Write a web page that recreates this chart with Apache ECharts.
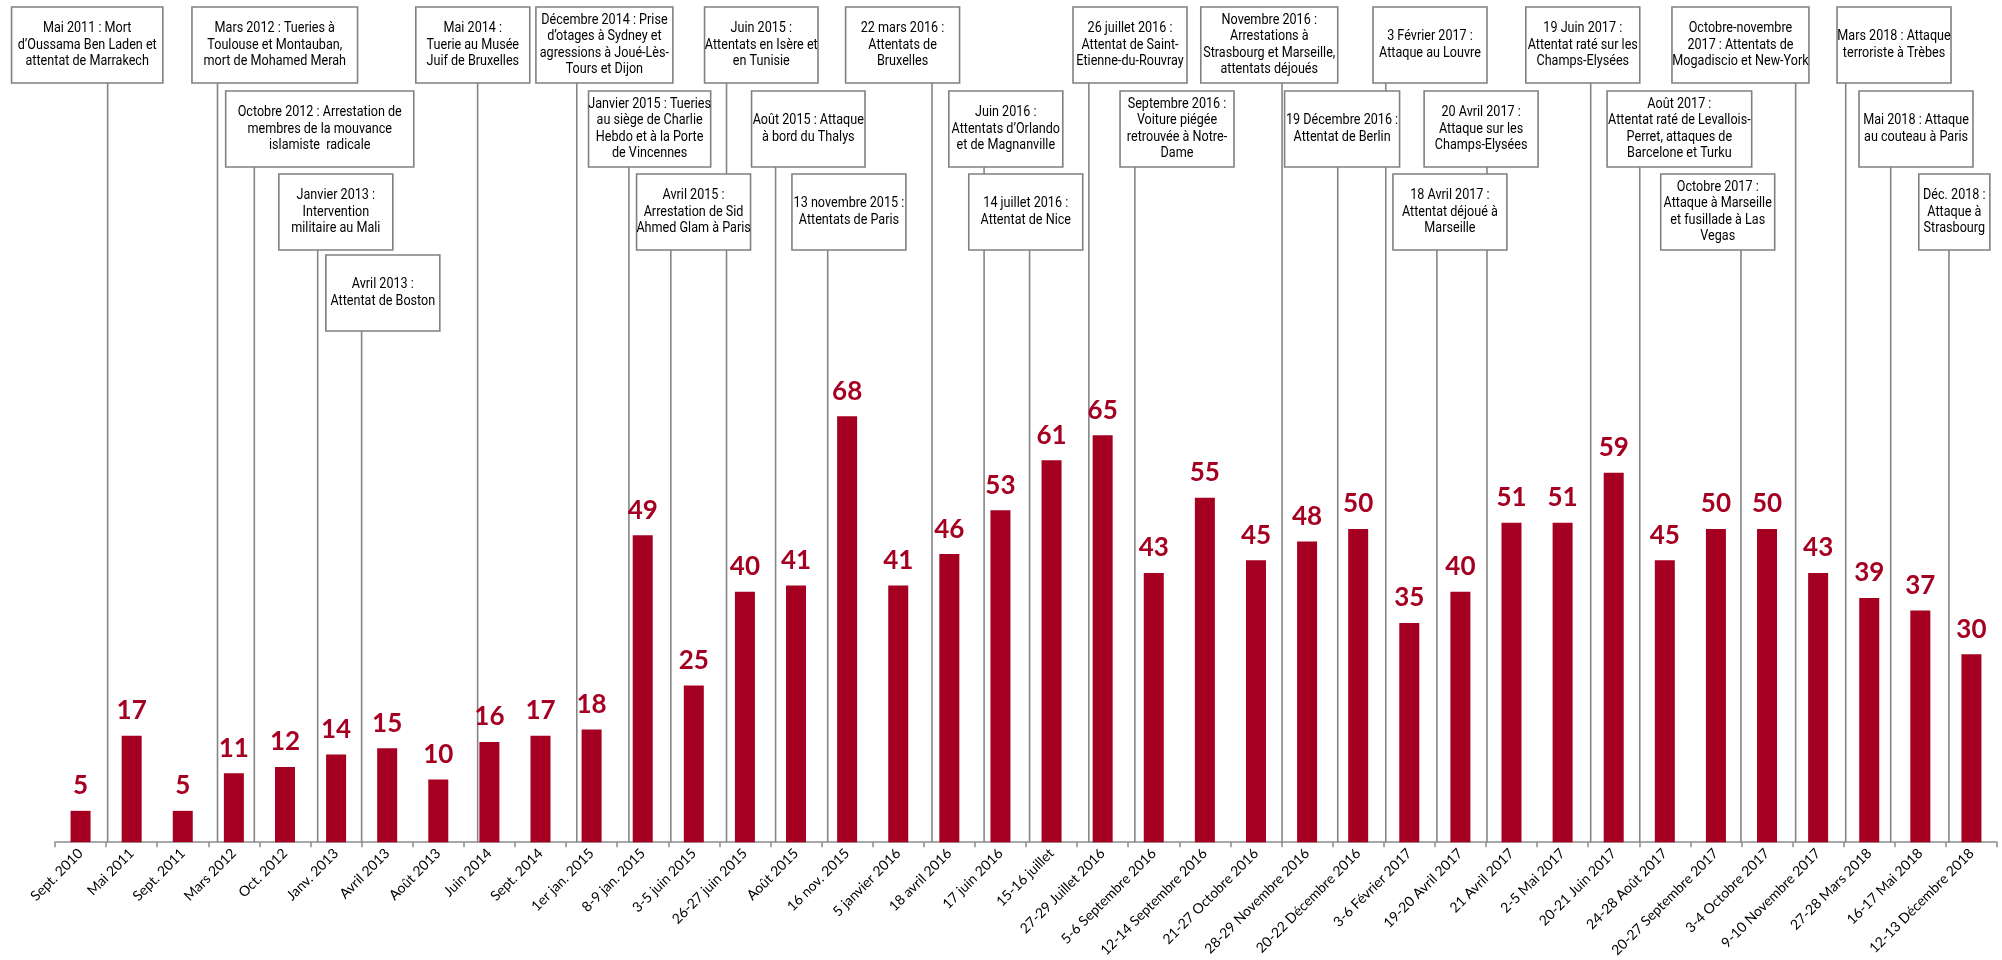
<!DOCTYPE html>
<html>
<head>
<meta charset="utf-8">
<script src="https://cdn.jsdelivr.net/npm/echarts@6/dist/echarts.min.js"></script>
<style>
html,body{margin:0;padding:0;background:#fff;}
#chart{width:2002px;height:960px;}
</style>
</head>
<body>
<div id="chart"></div>
<script>
// ---- Data ----
const categories = [
  'Sept. 2010','Mai 2011','Sept. 2011','Mars 2012','Oct. 2012','Janv. 2013','Avril 2013','Août 2013',
  'Juin 2014','Sept. 2014','1er jan. 2015','8-9 jan. 2015','3-5 juin 2015','26-27 juin 2015','Août 2015',
  '16 nov. 2015','5 janvier 2016','18 avril 2016','17 juin 2016','15-16 juillet','27-29 Juillet 2016',
  '5-6 Septembre 2016','12-14 Septembre 2016','21-27 Octobre 2016','28-29 Novembre 2016','20-22 Décembre 2016',
  '3-6 Février 2017','19-20 Avril 2017','21 Avril 2017','2-5 Mai 2017','20-21 Juin 2017','24-28 Août 2017',
  '20-27 Septembre 2017','3-4 Octobre 2017','9-10 Novembre 2017','27-28 Mars 2018','16-17 Mai 2018',
  '12-13 Décembre 2018'
];
const values = [5,17,5,11,12,14,15,10,16,17,18,49,25,40,41,68,41,46,53,61,65,43,55,45,48,50,35,40,51,51,59,45,50,50,43,39,37,30];

const annotationTexts = [
  'Mai 2011 : Mort\nd’Oussama Ben Laden et\nattentat de Marrakech',
  'Mars 2012 : Tueries à\nToulouse et Montauban,\nmort de Mohamed Merah',
  'Octobre 2012 : Arrestation de\nmembres de la mouvance\nislamiste  radicale',
  'Janvier 2013 :\nIntervention\nmilitaire au Mali',
  'Avril 2013 :\nAttentat de Boston',
  'Mai 2014 :\nTuerie au Musée\nJuif de Bruxelles',
  'Décembre 2014 : Prise\nd’otages à Sydney et\nagressions à Joué-Lès-\nTours et Dijon',
  'Janvier 2015 : Tueries\nau siège de Charlie\nHebdo et à la Porte\nde Vincennes',
  'Avril 2015 :\nArrestation de Sid\nAhmed Glam à Paris',
  'Juin 2015 :\nAttentats en Isère et\nen Tunisie',
  'Août 2015 : Attaque\nà bord du Thalys',
  '13 novembre 2015 :\nAttentats de Paris',
  '22 mars 2016 :\nAttentats de\nBruxelles',
  'Juin 2016 :\nAttentats d’Orlando\net de Magnanville',
  '14 juillet 2016 :\nAttentat de Nice',
  '26 juillet 2016 :\nAttentat de Saint-\nEtienne-du-Rouvray',
  'Septembre 2016 :\nVoiture piégée\nretrouvée à Notre-\nDame',
  'Novembre 2016 :\nArrestations à\nStrasbourg et Marseille,\nattentats déjoués',
  '19 Décembre 2016 :\nAttentat de Berlin',
  '3 Février 2017 :\nAttaque au Louvre',
  '20 Avril 2017 :\nAttaque sur les\nChamps-Elysées',
  '18 Avril 2017 :\nAttentat déjoué à\nMarseille',
  '19 Juin 2017 :\nAttentat raté sur les\nChamps-Elysées',
  'Août 2017 :\nAttentat raté de Levallois-\nPerret, attaques de\nBarcelone et Turku',
  'Octobre 2017 :\nAttaque à Marseille\net fusillade à Las\nVegas',
  'Octobre-novembre\n2017 : Attentats de\nMogadiscio et New-York',
  'Mars 2018 : Attaque\nterroriste à Trèbes',
  'Mai 2018 : Attaque\nau couteau à Paris',
  'Déc. 2018 :\nAttaque à\nStrasbourg'
];

// ---- Layout of annotations (category units on x, row index on y) ----
const annotationLineX = [1.03,3.18,3.90,5.14,6.00,8.27,10.21,11.23,12.05,13.14,14.10,15.12,17.16,18.18,19.07,20.23,21.13,24.01,25.10,26.04,28.02,27.04,30.05,31.01,32.99,34.06,35.04,35.92,37.06];
const annotationBoxes = [
  [-0.85,2.11,0],[2.68,5.92,0],[3.34,7.02,1],[4.38,6.61,2],[5.30,7.53,3],[7.06,9.29,0],
  [9.41,12.09,0],[10.44,12.83,1],[11.38,13.61,2],[12.71,14.93,0],[13.63,15.85,1],[14.42,16.65,2],
  [15.47,17.70,0],[17.49,19.72,1],[17.88,20.11,2],[19.92,22.15,0],[20.84,23.07,1],[22.42,25.10,0],
  [24.06,26.31,1],[25.79,28.02,0],[26.79,29.02,1],[26.18,28.41,2],[28.78,31.01,0],[30.37,33.20,1],
  [31.42,33.65,2],[31.64,34.32,0],[34.87,37.10,0],[35.30,37.53,1],[36.47,37.86,2]
];
const rowTops = [7, 91, 174, 255];
const boxHeight = 76;

const barColor = '#A50021';
const boxFont = 'Roboto, sans-serif';

const chart = echarts.init(document.getElementById('chart'), null, {renderer: 'canvas'});

const option = {
  animation: false,
  backgroundColor: '#ffffff',
  grid: {left: 55, width: 1942, bottom: 117, top: 216, containLabel: false},
  xAxis: [
    {
      type: 'category',
      data: categories,
      axisLine: {lineStyle: {color: '#8c8c8c', width: 1.5}},
      axisTick: {show: true, length: 5, lineStyle: {color: '#8c8c8c', width: 1.5}},
      axisLabel: {interval: 0, rotate: 45, margin: 9, color: '#000', fontSize: 14, fontFamily: 'Lato, sans-serif'}
    },
    {type: 'value', min: 0, max: categories.length, show: false}
  ],
  yAxis: [{type: 'value', min: 0, max: 100, show: false}],
  series: [
    {
      type: 'custom',
      xAxisIndex: 1,
      yAxisIndex: 0,
      clip: false,
      silent: true,
      z: 1,
      data: annotationLineX.map((x, i) => [x, annotationBoxes[i][2]]),
      renderItem: function (params, api) {
        const x = api.coord([api.value(0), 0])[0];
        const yAxisPos = api.coord([0, 0])[1];
        const top = rowTops[api.value(1)] + boxHeight;
        return {
          type: 'line',
          shape: {x1: x, y1: top, x2: x, y2: yAxisPos},
          style: {stroke: '#858585', lineWidth: 1.6}
        };
      }
    },
    {
      type: 'custom',
      xAxisIndex: 1,
      yAxisIndex: 0,
      clip: false,
      silent: true,
      z: 3,
      data: annotationBoxes.map((b, i) => [b[0], b[1], b[2], i]),
      renderItem: function (params, api) {
        const xl = api.coord([api.value(0), 0])[0];
        const xr = api.coord([api.value(1), 0])[0];
        const top = rowTops[api.value(2)];
        const idx = api.value(3);
        return {
          type: 'group',
          children: [
            {
              type: 'rect',
              shape: {x: xl, y: top, width: xr - xl, height: boxHeight},
              style: {fill: '#ffffff', stroke: '#808080', lineWidth: 1.6}
            },
            {
              type: 'text',
              x: (xl + xr) / 2,
              y: top + boxHeight / 2,
              scaleX: 0.9,
              style: {
                text: annotationTexts[idx],
                x: 0,
                y: 0,
                align: 'center',
                verticalAlign: 'middle',
                fontSize: 14,
                lineHeight: 16.5,
                fontFamily: boxFont,
                fill: '#000'
              }
            }
          ]
        };
      }
    },
    {
      type: 'bar',
      xAxisIndex: 0,
      yAxisIndex: 0,
      data: values,
      barWidth: 20,
      z: 2,
      itemStyle: {color: barColor},
      label: {
        show: true,
        position: 'top',
        distance: 12,
        color: barColor,
        fontSize: 26,
        fontWeight: 'bold',
        fontFamily: 'Lato, sans-serif'
      }
    }
  ]
};
chart.setOption(option);
</script>
</body>
</html>
